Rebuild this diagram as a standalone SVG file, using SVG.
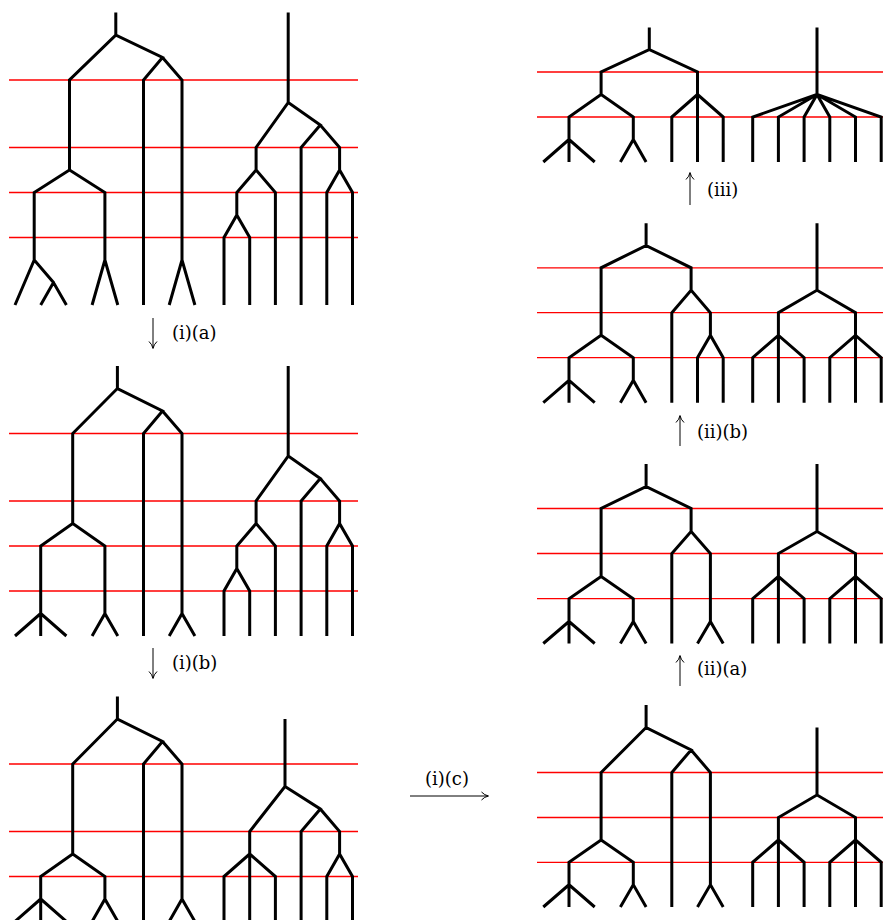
<svg xmlns="http://www.w3.org/2000/svg" width="883" height="920" viewBox="0 0 883 920">
<style>
.e{fill:none;stroke:#000;stroke-width:3;stroke-linejoin:miter;stroke-linecap:butt}
.r{stroke:#ff0000;stroke-width:1.3}
.a{fill:none;stroke:#000;stroke-width:1}
.t{font-family:"DejaVu Serif","Liberation Serif",serif;font-size:18px;fill:#000}
</style>
<rect width="883" height="920" fill="#fff"/>
<g id="levels">
<path class="r" d="M9,80H358M9,147.5H358M9,192.5H358M9,237.5H358"/>
<path class="r" d="M9,433.5H358M9,501H358M9,546H358M9,591H358"/>
<path class="r" d="M9,764H358M9,831.5H358M9,876.5H358"/>
<path class="r" d="M537,72H883M537,117H883"/>
<path class="r" d="M537,267.8H883M537,312.7H883M537,357.7H883"/>
<path class="r" d="M537,508.5H883M537,553.5H883M537,598.7H883"/>
<path class="r" d="M537,772.5H883M537,817.5H883M537,862.3H883"/>
</g>
<g id="panelA-left">
<path class="e" d="M115.8,12.5V35L69.5,80V170L34.2,192.5V260L15,305
M115.8,12.5V35L69.5,80V170L34.2,192.5V260L53.5,282.5L40.7,305
M115.8,12.5V35L69.5,80V170L34.2,192.5V260L53.5,282.5L66.4,305
M115.8,12.5V35L69.5,80V170L104.9,192.5V260L92.1,305
M115.8,12.5V35L69.5,80V170L104.9,192.5V260L117.8,305
M115.8,12.5V35L162.5,57.5L143.5,80V305
M115.8,12.5V35L162.5,57.5L182,80V260L169.2,305
M115.8,12.5V35L162.5,57.5L182,80V260L194.9,305"/>
</g>
<g id="panelA-right">
<path class="e" d="M288.2,12.5V102.5L256.1,147.5V170L236.8,192.5V215L224,237.5V305
M288.2,12.5V102.5L256.1,147.5V170L236.8,192.5V215L249.7,237.5V305
M288.2,12.5V102.5L256.1,147.5V170L275.4,192.5V305
M288.2,12.5V102.5L320.3,125L301.1,147.5V305
M288.2,12.5V102.5L320.3,125L339.6,147.5V170L326.8,192.5V305
M288.2,12.5V102.5L320.3,125L339.6,147.5V170L352.5,192.5V305"/>
</g>
<g id="panelB-left">
<path class="e" d="M117.4,366V388.5L72.7,433.5V523.5L40.7,546V613.5L15,636
M117.4,366V388.5L72.7,433.5V523.5L40.7,546V636
M117.4,366V388.5L72.7,433.5V523.5L40.7,546V613.5L66.4,636
M117.4,366V388.5L72.7,433.5V523.5L104.9,546V613.5L92.1,636
M117.4,366V388.5L72.7,433.5V523.5L104.9,546V613.5L117.8,636
M117.4,366V388.5L162.5,411L143.5,433.5V636
M117.4,366V388.5L162.5,411L182,433.5V613.5L169.2,636
M117.4,366V388.5L162.5,411L182,433.5V613.5L194.9,636"/>
</g>
<g id="panelB-right">
<path class="e" d="M288.2,366V456L256.1,501V523.5L236.8,546V568.5L224,591V636
M288.2,366V456L256.1,501V523.5L236.8,546V568.5L249.7,591V636
M288.2,366V456L256.1,501V523.5L275.4,546V636
M288.2,366V456L320.3,478.5L301.1,501V636
M288.2,366V456L320.3,478.5L339.6,501V523.5L326.8,546V636
M288.2,366V456L320.3,478.5L339.6,501V523.5L352.5,546V636"/>
</g>
<g id="panelC-left">
<path class="e" d="M117.4,696.5V719L72.7,764V854L40.7,876.5V899L15,921.5
M117.4,696.5V719L72.7,764V854L40.7,876.5V921.5
M117.4,696.5V719L72.7,764V854L40.7,876.5V899L66.4,921.5
M117.4,696.5V719L72.7,764V854L104.9,876.5V899L92.1,921.5
M117.4,696.5V719L72.7,764V854L104.9,876.5V899L117.8,921.5
M117.4,696.5V719L162.5,741.5L143.5,764V921.5
M117.4,696.5V719L162.5,741.5L182,764V899L169.2,921.5
M117.4,696.5V719L162.5,741.5L182,764V899L194.9,921.5"/>
</g>
<g id="panelC-right">
<path class="e" d="M285,719V786.5L249.7,831.5V921.5
M285,719V786.5L249.7,831.5V854L224,876.5V921.5
M285,719V786.5L249.7,831.5V854L275.4,876.5V921.5
M285,719V786.5L320.3,809L301.1,831.5V921.5
M285,719V786.5L320.3,809L339.6,831.5V854L326.8,876.5V921.5
M285,719V786.5L320.3,809L339.6,831.5V854L352.5,876.5V921.5"/>
</g>
<g id="panelR1-left">
<path class="e" d="M649.3,27.5V49.5L601.1,72V94.5L569,117V139.5L543.3,162
M649.3,27.5V49.5L601.1,72V94.5L569,117V162
M649.3,27.5V49.5L601.1,72V94.5L569,117V139.5L594.7,162
M649.3,27.5V49.5L601.1,72V94.5L633.3,117V139.5L620.4,162
M649.3,27.5V49.5L601.1,72V94.5L633.3,117V139.5L646.1,162
M649.3,27.5V49.5L697.5,72V94.5L671.8,117V162
M649.3,27.5V49.5L697.5,72V162
M649.3,27.5V49.5L697.5,72V94.5L723.2,117V162"/>
</g>
<g id="panelR1-right">
<path class="e" d="M817,27.5V94.5L752.7,117V162
M817,27.5V94.5L778.4,117V162
M817,27.5V94.5L804.1,117V162
M817,27.5V94.5L829.8,117V162
M817,27.5V94.5L855.5,117V162
M817,27.5V94.5L881.2,117V162"/>
</g>
<g id="panelR2-left">
<path class="e" d="M646.1,223.3V245.5L601.1,267.8V335.3L569,357.7V380.3L543.3,402.7
M646.1,223.3V245.5L601.1,267.8V335.3L569,357.7V402.7
M646.1,223.3V245.5L601.1,267.8V335.3L569,357.7V380.3L594.7,402.7
M646.1,223.3V245.5L601.1,267.8V335.3L633.3,357.7V380.3L620.4,402.7
M646.1,223.3V245.5L601.1,267.8V335.3L633.3,357.7V380.3L646.1,402.7
M646.1,223.3V245.5L691.1,267.8V290.2L671.8,312.7V402.7
M646.1,223.3V245.5L691.1,267.8V290.2L710.4,312.7V335.3L697.5,357.7V402.7
M646.1,223.3V245.5L691.1,267.8V290.2L710.4,312.7V335.3L723.2,357.7V402.7"/>
</g>
<g id="panelR2-right">
<path class="e" d="M817,223.3V290.2L778.4,312.7V335.3L752.7,357.7V402.7
M817,223.3V290.2L778.4,312.7V402.7
M817,223.3V290.2L778.4,312.7V335.3L804.1,357.7V402.7
M817,223.3V290.2L855.5,312.7V335.3L829.8,357.7V402.7
M817,223.3V290.2L855.5,312.7V402.7
M817,223.3V290.2L855.5,312.7V335.3L881.2,357.7V402.7"/>
</g>
<g id="panelR3-left">
<path class="e" d="M646.1,464V486.5L601.1,508.5V576.5L569,598.7V621.5L543.3,643.5
M646.1,464V486.5L601.1,508.5V576.5L569,598.7V643.5
M646.1,464V486.5L601.1,508.5V576.5L569,598.7V621.5L594.7,643.5
M646.1,464V486.5L601.1,508.5V576.5L633.3,598.7V621.5L620.4,643.5
M646.1,464V486.5L601.1,508.5V576.5L633.3,598.7V621.5L646.1,643.5
M646.1,464V486.5L691.1,508.5V531.5L671.8,553.5V643.5
M646.1,464V486.5L691.1,508.5V531.5L710.4,553.5V621.5L697.5,643.5
M646.1,464V486.5L691.1,508.5V531.5L710.4,553.5V621.5L723.2,643.5"/>
</g>
<g id="panelR3-right">
<path class="e" d="M817,464V531.5L778.4,553.5V576.5L752.7,598.7V643.5
M817,464V531.5L778.4,553.5V643.5
M817,464V531.5L778.4,553.5V576.5L804.1,598.7V643.5
M817,464V531.5L855.5,553.5V576.5L829.8,598.7V643.5
M817,464V531.5L855.5,553.5V643.5
M817,464V531.5L855.5,553.5V576.5L881.2,598.7V643.5"/>
</g>
<g id="panelR4-left">
<path class="e" d="M646.1,705V727.5L601.1,772.5V840L569,862.3V884.7L543.3,907
M646.1,705V727.5L601.1,772.5V840L569,862.3V907
M646.1,705V727.5L601.1,772.5V840L569,862.3V884.7L594.7,907
M646.1,705V727.5L601.1,772.5V840L633.3,862.3V884.7L620.4,907
M646.1,705V727.5L601.1,772.5V840L633.3,862.3V884.7L646.1,907
M646.1,705V727.5L691.1,750L671.8,772.5V907
M646.1,705V727.5L691.1,750L710.4,772.5V884.7L697.5,907
M646.1,705V727.5L691.1,750L710.4,772.5V884.7L723.2,907"/>
</g>
<g id="panelR4-right">
<path class="e" d="M817,727.5V795L778.4,817.5V840L752.7,862.3V907
M817,727.5V795L778.4,817.5V907
M817,727.5V795L778.4,817.5V840L804.1,862.3V907
M817,727.5V795L855.5,817.5V840L829.8,862.3V907
M817,727.5V795L855.5,817.5V907
M817,727.5V795L855.5,817.5V840L881.2,862.3V907"/>
</g>
<g id="connectors">
<path class="a" d="M153,318V348M149,341.5Q152.2,344.5 153,348.5M157,341.5Q153.8,344.5 153,348.5"/>
<path class="a" d="M153,648V678M149,671.5Q152.2,674.5 153,678.5M157,671.5Q153.8,674.5 153,678.5"/>
<path class="a" d="M410,796H488M481.5,792Q484.5,795.2 488.5,796M481.5,800Q484.5,796.8 488.5,796"/>
<path class="a" d="M690,205V173M686,179.5Q689.2,176.5 690,172.5M694,179.5Q690.8,176.5 690,172.5"/>
<path class="a" d="M680,446V416M676,422.5Q679.2,419.5 680,415.5M684,422.5Q680.8,419.5 680,415.5"/>
<path class="a" d="M680,686V656M676,662.5Q679.2,659.5 680,655.5M684,662.5Q680.8,659.5 680,655.5"/>
<text class="t" x="172" y="339">(i)(a)</text>
<text class="t" x="172" y="669">(i)(b)</text>
<text class="t" x="447" y="785" text-anchor="middle">(i)(c)</text>
<text class="t" x="707" y="196">(iii)</text>
<text class="t" x="697" y="438">(ii)(b)</text>
<text class="t" x="697" y="675">(ii)(a)</text>
</g>
</svg>
